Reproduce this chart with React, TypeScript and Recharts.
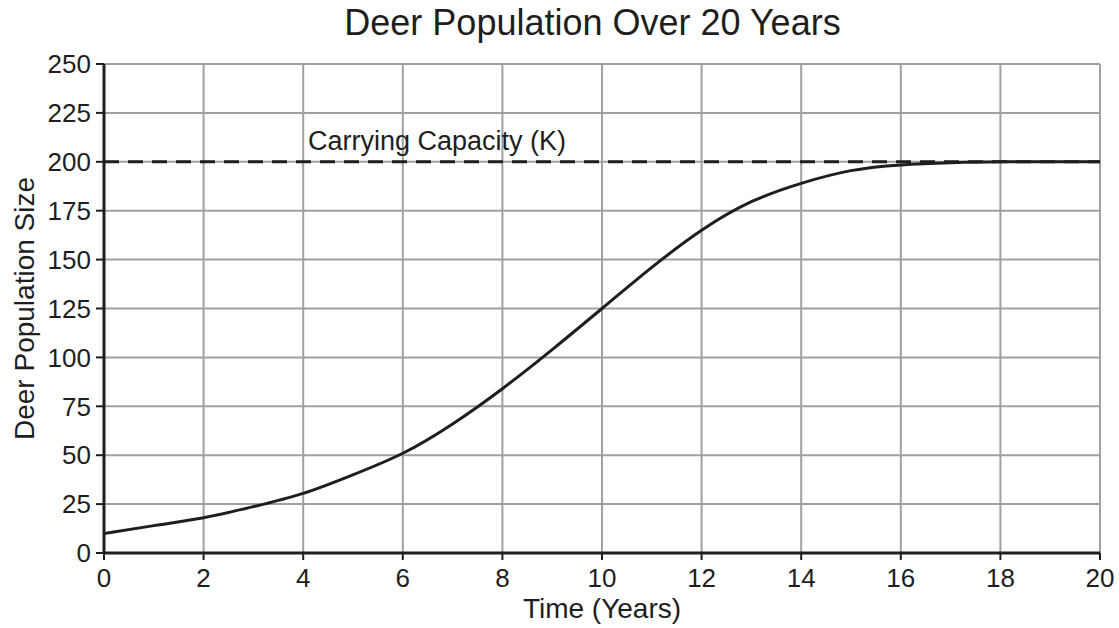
import { LineChart, Line, XAxis, YAxis, CartesianGrid, ReferenceLine, Label } from 'recharts';

const years = [0, 1, 2, 3, 4, 5, 6, 7, 8, 9, 10, 11, 12, 13, 14, 15, 16, 17, 18, 19, 20];
const population = [10, 14, 18, 23.7, 30.5, 40, 51, 66, 84, 104, 125, 146, 165, 179.6, 189, 195.5, 198.4, 199.5, 200, 200, 200];
const xTicks = [0, 2, 4, 6, 8, 10, 12, 14, 16, 18, 20];
const yTicks = [0, 25, 50, 75, 100, 125, 150, 175, 200, 225, 250];
const carryingCapacity = 200;

const FONT = '"Liberation Sans", Arial, sans-serif';
const INK = '#1e1e1e';

export default function App() {
  const data = years.map((t, i) => ({ t, n: population[i] }));

  return (
    <div style={{ position: 'absolute', left: 0, top: 0, width: 1119, height: 628, background: '#fff', fontFamily: FONT }}>
      <div
        style={{
          position: 'absolute',
          top: 2,
          left: 0,
          width: 1185,
          textAlign: 'center',
          fontSize: 36,
          color: INK,
          whiteSpace: 'nowrap',
        }}
      >
        Deer Population Over 20 Years
      </div>
      <LineChart width={1119} height={628} data={data} margin={{ top: 64, right: 19, bottom: 0, left: 0 }}>
        <CartesianGrid stroke="#a0a0a0" strokeWidth={2} vertical horizontal />
        <XAxis
          dataKey="t"
          type="number"
          domain={[0, 20]}
          ticks={xTicks}
          height={75}
          tickSize={7}
          tickMargin={9}
          axisLine={{ stroke: INK, strokeWidth: 3 }}
          tickLine={{ stroke: INK, strokeWidth: 2 }}
          tick={{ fill: INK, fontSize: 26, fontFamily: FONT }}
        >
          <Label value="Time (Years)" position="insideBottom" offset={10} fill={INK} fontSize={28} fontFamily={FONT} />
        </XAxis>
        <YAxis
          type="number"
          domain={[0, 250]}
          ticks={yTicks}
          width={104}
          tickSize={8}
          tickMargin={5}
          axisLine={{ stroke: INK, strokeWidth: 3 }}
          tickLine={{ stroke: INK, strokeWidth: 2 }}
          tick={{ fill: INK, fontSize: 26, fontFamily: FONT }}
        >
          <Label
            value="Deer Population Size"
            angle={-90}
            position="insideLeft"
            offset={24}
            style={{ textAnchor: 'middle' }}
            fill={INK}
            fontSize={28}
            fontFamily={FONT}
          />
        </YAxis>
        <ReferenceLine
          y={carryingCapacity}
          stroke={INK}
          strokeWidth={3}
          strokeDasharray="15 9"
          label={{
            value: 'Carrying Capacity (K)',
            position: 'top',
            dx: -165,
            offset: 12,
            fill: INK,
            fontSize: 27,
            fontFamily: FONT,
          }}
        />
        <Line
          type="natural"
          dataKey="n"
          stroke={INK}
          strokeWidth={3}
          dot={false}
          isAnimationActive={false}
        />
      </LineChart>
    </div>
  );
}
